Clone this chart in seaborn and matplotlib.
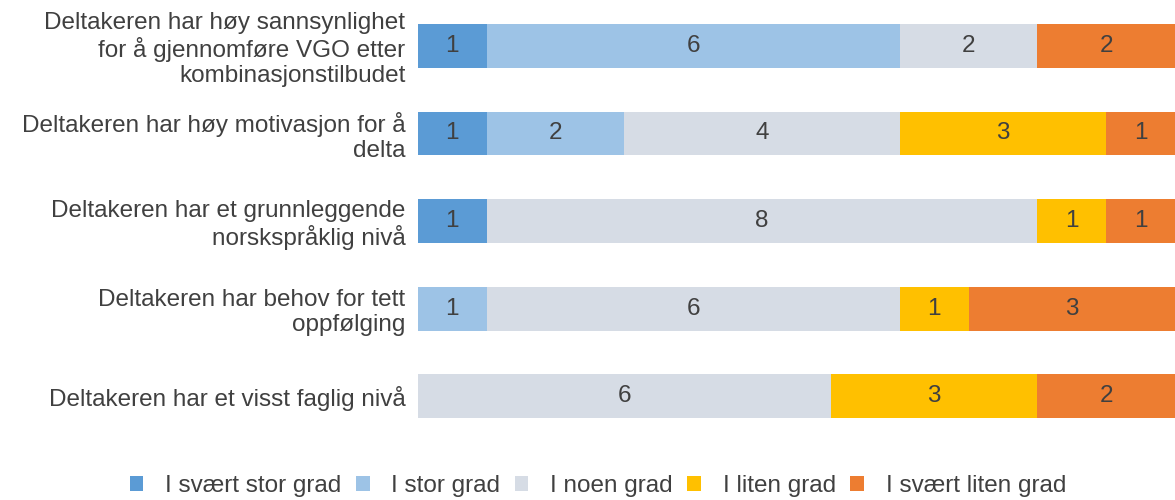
import numpy as np
import pandas as pd
import matplotlib
matplotlib.use("Agg")
import matplotlib.pyplot as plt
from matplotlib.patches import Patch
import seaborn as sns

categories = [
    "Deltakeren har høy sannsynlighet\nfor å gjennomføre VGO etter\nkombinasjonstilbudet",
    "Deltakeren har høy motivasjon for å\ndelta",
    "Deltakeren har et grunnleggende\nnorskspråklig nivå",
    "Deltakeren har behov for tett\noppfølging",
    "Deltakeren har et visst faglig nivå",
]
levels = ["I svært stor grad", "I stor grad", "I noen grad", "I liten grad", "I svært liten grad"]
svaert_stor = [1, 1, 1, 0, 0]
stor = [6, 2, 0, 1, 0]
noen = [2, 4, 8, 6, 6]
liten = [0, 3, 1, 1, 3]
svaert_liten = [2, 1, 1, 3, 2]
colors = ["#5B9BD5", "#9DC3E6", "#D6DCE5", "#FFC000", "#ED7D31"]

sns.set_theme(style="white")
plt.rcParams["font.family"] = ["Liberation Sans", "DejaVu Sans"]
text_color = "#404040"
fs = 17.5

series = [svaert_stor, stor, noen, liten, svaert_liten]
vals = np.array(series, dtype=float)          # shape (levels, categories)
cum = np.cumsum(vals, axis=0)

fig = plt.figure(figsize=(11.75, 5.0), dpi=100)
ax = fig.add_axes([0.3557, 0.12, 0.6443, 0.876])

# stacked bars: draw cumulative totals from the outermost segment inwards
for i in range(len(levels) - 1, -1, -1):
    df = pd.DataFrame({"kategori": categories, "verdi": cum[i]})
    sns.barplot(data=df, x="verdi", y="kategori", color=colors[i],
                saturation=1, width=0.5, orient="h", ax=ax, linewidth=0)

for i in range(len(levels)):
    for j in range(len(categories)):
        v = vals[i, j]
        if v > 0:
            ax.text(cum[i, j] - v / 2, j, f"{int(v)}", ha="center", va="center",
                    fontsize=fs, color=text_color)

ax.set_xlim(0, 11)
ax.set_ylim(4.5, -0.5)
ax.set_xlabel("")
ax.set_ylabel("")
ax.set_xticks([])
ax.tick_params(axis="y", length=0, pad=9, labelsize=fs, labelcolor=text_color)
for lbl in ax.get_yticklabels():
    lbl.set_horizontalalignment("right")
    lbl.set_linespacing(1.16)
for s in ax.spines.values():
    s.set_visible(False)

handles = [Patch(facecolor=c, edgecolor="none") for c in colors]
fig.legend(handles, levels, loc="center", bbox_to_anchor=(0.509, 0.028), ncol=5,
           frameon=False, fontsize=fs, labelcolor=text_color,
           handlelength=0.55, handleheight=0.55, handletextpad=0.9, columnspacing=0.6)

fig.savefig("out.png", dpi=100)
